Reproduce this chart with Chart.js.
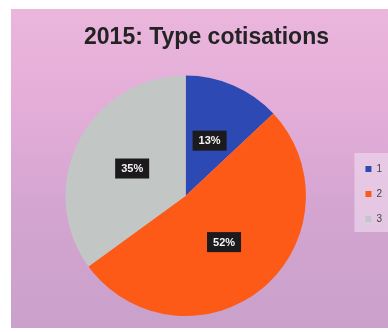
<!DOCTYPE html>
<html>
<head>
<meta charset="utf-8">
<script src="https://cdn.jsdelivr.net/npm/chart.js@4.4.1/dist/chart.umd.min.js"></script>
<style>
  html, body { margin: 0; padding: 0; background: #ffffff; }
  #wrap { position: relative; width: 388px; height: 332px; }
  #bg { position: absolute; left: 11px; top: 9px; width: 377px; height: 319px;
        background: linear-gradient(180deg, #ebb6dc 0%, #e2acd8 35%, #d3a4d0 65%, #c9a1cb 100%); }
  #c { position: absolute; left: 0; top: 0; }
</style>
</head>
<body>
<div id="wrap">
  <div id="bg"></div>
  <canvas id="c" width="388" height="332"></canvas>
</div>
<script>
const titleText = "2015: Type cotisations";
const categories = ["1", "2", "3"];
const values = [13, 52, 35];
const percentLabels = ["13%", "52%", "35%"];
const sliceColors = ["#2c49b4", "#fd5a17", "#c2c7c5"];

const labelBoxes = {
  id: 'labelBoxes',
  afterDatasetsDraw(chart) {
    const ctx = chart.ctx;
    const meta = chart.getDatasetMeta(0);
    ctx.save();
    ctx.font = 'bold 11px "Liberation Sans", Arial, sans-serif';
    ctx.textAlign = 'center';
    ctx.textBaseline = 'middle';
    meta.data.forEach((arc, i) => {
      const p = arc.tooltipPosition();
      const txt = percentLabels[i];
      const w = ctx.measureText(txt).width + 12;
      const h = 20;
      ctx.fillStyle = '#1c1a1c';
      ctx.fillRect(p.x - w / 2, p.y - h / 2, w, h);
      ctx.fillStyle = '#f4f4f4';
      ctx.fillText(txt, p.x, p.y + 0.5);
    });
    ctx.restore();
  }
};

const legendBg = {
  id: 'legendBg',
  beforeDraw(chart) {
    const lg = chart.legend;
    if (!lg || !lg.legendHitBoxes || !lg.legendHitBoxes.length) return;
    const hb = lg.legendHitBoxes;
    const top = hb[0].top - 11;
    const bottom = hb[hb.length - 1].top + hb[hb.length - 1].height + 8;
    const ctx = chart.ctx;
    ctx.save();
    ctx.fillStyle = 'rgba(242,228,242,0.55)';
    ctx.fillRect(hb[0].left - 11, top, 60, bottom - top);
    ctx.restore();
  }
};

new Chart(document.getElementById('c'), {
  type: 'pie',
  data: {
    labels: categories,
    datasets: [{
      data: values,
      backgroundColor: sliceColors,
      borderWidth: 0
    }]
  },
  options: {
    responsive: false,
    animation: false,
    layout: { padding: { left: 21, right: -4, top: 0, bottom: 16 } },
    plugins: {
      title: {
        display: true,
        text: titleText,
        color: '#232323',
        font: { family: '"Liberation Sans", Arial, sans-serif', size: 23, weight: 'bold', lineHeight: 1.2 },
        padding: { top: 24, bottom: 24 }
      },
      legend: {
        position: 'right',
        title: { display: true, text: '', padding: 30, font: { size: 10 } },
        labels: {
          boxWidth: 6,
          boxHeight: 6,
          padding: 15,
          color: '#444444',
          font: { family: '"Liberation Sans", Arial, sans-serif', size: 10 }
        }
      },
      tooltip: { enabled: false }
    }
  },
  plugins: [legendBg, labelBoxes]
});
</script>
</body>
</html>
